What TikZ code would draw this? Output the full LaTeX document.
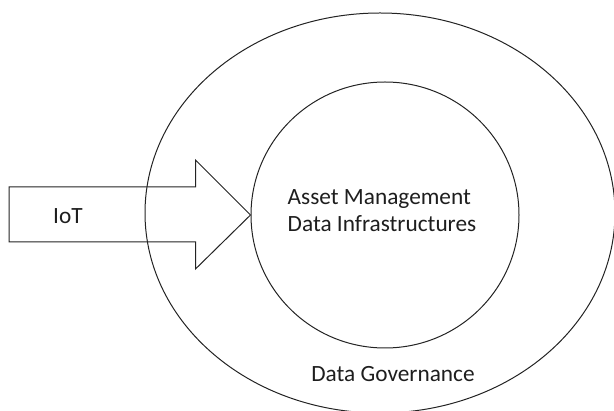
\documentclass[tikz,border=0pt]{standalone}
\usepackage{fontspec}
\setmainfont{Carlito}
\usepackage{tikz}
\usetikzlibrary{shapes.geometric, positioning}
\definecolor{lineclr}{RGB}{35,35,35}
\definecolor{textclr}{RGB}{30,30,30}

\begin{document}
\begin{tikzpicture}[
    x=1pt, y=-1pt,
    % Node styles
    ring/.style={ellipse, draw=lineclr, line width=1pt, inner sep=0pt},
    blockarrow/.style={draw=lineclr, line width=1pt, line join=miter},
    label/.style={font=\fontsize{23.3}{27}\selectfont, text=textclr, inner sep=0pt, align=left}
]
\useasboundingbox (0,0) rectangle (614,411);

% Rings
\node (governance) [ring, minimum width=470pt, minimum height=400pt] at (380,213) {};
\node (infra) [ring, minimum width=268pt, minimum height=266pt] at (385,215) {};

% Texts
\node (infratext) [label] at (382,211) {Asset Management\\Data Infrastructures};
\node (govtext) [label] at (393,374) {Data Governance};

% Block arrow
\coordinate (tip) at (infra.west);
\draw [blockarrow] (tip) -- ++(-55,-55) -- ++(0,27) -- ++(-186.5,0) -- ++(0,55)
    -- ++(186.5,0) -- ++(0,27) -- cycle;
\node (iot) [label] at (68,216) {IoT};

\end{tikzpicture}
\end{document}
